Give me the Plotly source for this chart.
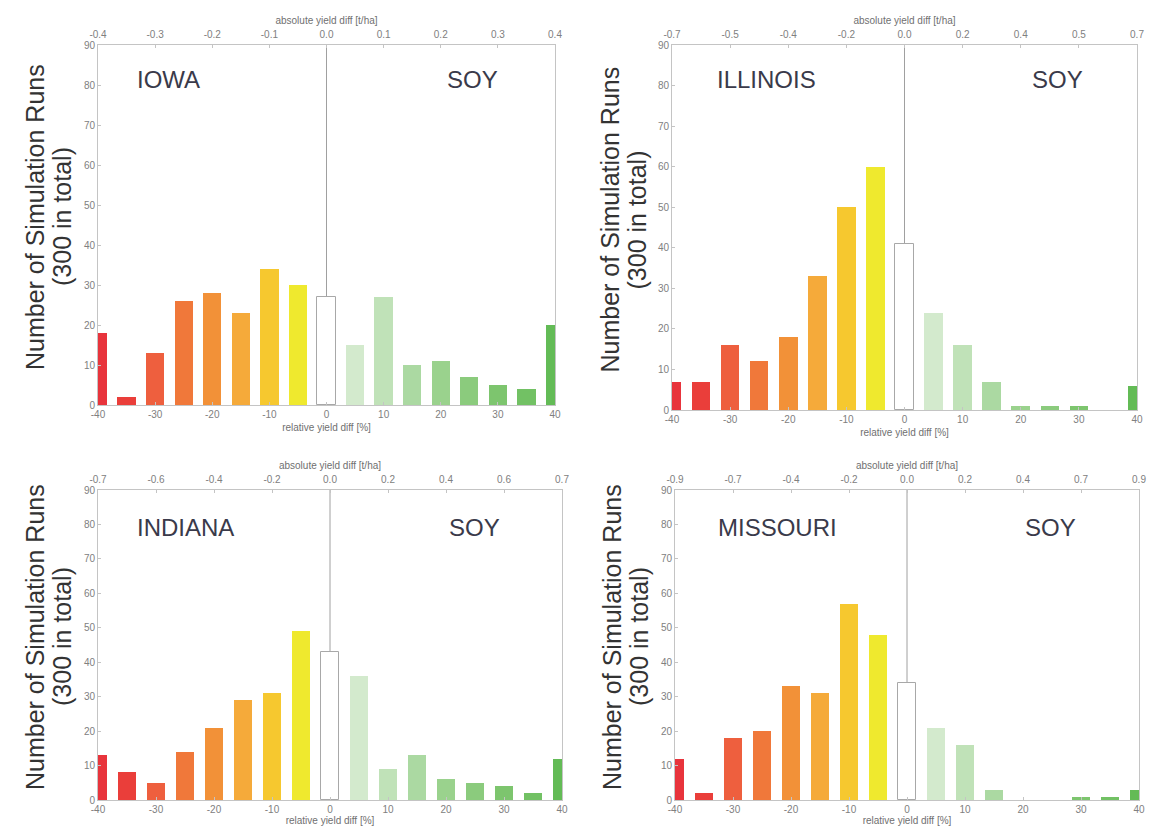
import plotly.graph_objects as go

bins = [-40, -35, -30, -25, -20, -15, -10, -5, 0, 5, 10, 15, 20, 25, 30, 35, 40]

iowa = [18, 2, 13, 26, 28, 23, 34, 30, 27, 15, 27, 10, 11, 7, 5, 4, 20]
illinois = [7, 7, 16, 12, 18, 33, 50, 60, 41, 24, 16, 7, 1, 1, 1, 0, 6]
indiana = [13, 8, 5, 14, 21, 29, 31, 49, 43, 36, 9, 13, 6, 5, 4, 2, 12]
missouri = [12, 2, 18, 20, 33, 31, 57, 48, 34, 21, 16, 3, 0, 0, 1, 1, 3]

states = ["IOWA", "ILLINOIS", "INDIANA", "MISSOURI"]
crop = "SOY"

bottom_tickvals = [-40, -30, -20, -10, 0, 10, 20, 30, 40]
bottom_ticktext = ["-40", "-30", "-20", "-10", "0", "10", "20", "30", "40"]
top_tickvals = [-40, -30, -20, -10, 0, 10, 20, 30, 40]
top_ticktext = {
    "IOWA": ["-0.4", "-0.3", "-0.2", "-0.1", "0.0", "0.1", "0.2", "0.3", "0.4"],
    "ILLINOIS": ["-0.7", "-0.5", "-0.4", "-0.2", "0.0", "0.2", "0.4", "0.5", "0.7"],
    "INDIANA": ["-0.7", "-0.6", "-0.4", "-0.2", "0.0", "0.2", "0.4", "0.6", "0.7"],
    "MISSOURI": ["-0.9", "-0.7", "-0.4", "-0.2", "0.0", "0.2", "0.4", "0.7", "0.9"],
}
y_ticks = [0, 10, 20, 30, 40, 50, 60, 70, 80, 90]

bar_colors = ["#e8343c", "#ea3e3a", "#ee5f3e", "#f0783a", "#f29138", "#f5aa3a",
              "#f6c82f", "#efe92e", "#ffffff",
              "#d3eacd", "#c0e2b8", "#abd9a2", "#9ad28d", "#8bcb7d", "#7dc56e",
              "#72c164", "#63bb56"]
line_colors = ["#a8a8a8" if c == "#ffffff" else c for c in bar_colors]
line_widths = [1 if c == "#ffffff" else 0 for c in bar_colors]

# page body has an 8px margin; figure is sized to fill the rest of the window
OFF = 8
W, H = 1157 - 2 * OFF, 834 - 2 * OFF
# panel frames in window pixels: left, right, top, bottom
frames = {
    "IOWA": (98, 555, 45, 405),
    "ILLINOIS": (672, 1137, 45, 410),
    "INDIANA": (98, 562, 490, 800),
    "MISSOURI": (675, 1139, 490, 800),
}
label_pos = {
    "IOWA": (-33.5, 81.5, 20.7),
    "ILLINOIS": (-32.6, 81.5, 21.6),
    "INDIANA": (-33.6, 79.0, 20.2),
    "MISSOURI": (-33.0, 79.0, 20.0),
}
data = {"IOWA": iowa, "ILLINOIS": illinois, "INDIANA": indiana, "MISSOURI": missouri}

fig = go.Figure()
layout = dict(
    width=W, height=H, margin=dict(l=0, r=0, t=0, b=0, autoexpand=False),
    paper_bgcolor="white", plot_bgcolor="white", showlegend=False,
    font=dict(family="Liberation Sans, Arial, sans-serif"),
    bargap=0,
)
annotations = []
shapes = []
tick_font = dict(size=10, color="#808080")
axis_color = "#c4c4c4"


def px_x(p):
    return (p - OFF) / W


def px_y(p):
    return 1 - (p - OFF) / H


for i, st in enumerate(states):
    l, r, t, b = frames[st]
    xd = [px_x(l), px_x(r)]
    yd = [px_y(b), px_y(t)]
    xb = 2 * i + 1
    xt = 2 * i + 2
    yi = i + 1
    xb_name = "x" if xb == 1 else f"x{xb}"
    xt_name = f"x{xt}"
    y_name = "y" if yi == 1 else f"y{yi}"

    fig.add_trace(go.Bar(
        x=bins, y=data[st], width=3.2,
        marker=dict(color=bar_colors, line=dict(color=line_colors, width=line_widths)),
        xaxis=xb_name, yaxis=y_name, hoverinfo="x+y",
    ))
    fig.add_trace(go.Scatter(x=[0], y=[0], mode="markers", marker=dict(opacity=0),
                             xaxis=xt_name, yaxis=y_name, hoverinfo="skip"))

    layout["xaxis" if xb == 1 else f"xaxis{xb}"] = dict(
        domain=xd, anchor=y_name, range=[-40, 40], side="bottom",
        tickvals=bottom_tickvals, ticktext=bottom_ticktext,
        ticks="inside", ticklen=3, tickcolor=axis_color,
        tickfont=tick_font, showgrid=False, zeroline=False,
        showline=True, linecolor=axis_color, linewidth=1, mirror=False,
        automargin=False,
        title=dict(text="relative yield diff [%]", font=dict(size=10, color="#707070"), standoff=4),
    )
    layout[f"xaxis{xt}"] = dict(
        domain=xd, anchor=y_name, overlaying=xb_name, range=[-40, 40], side="top",
        tickvals=top_tickvals, ticktext=top_ticktext[st],
        ticks="inside", ticklen=3, tickcolor=axis_color, ticklabelstandoff=2,
        tickfont=tick_font, showgrid=False, zeroline=False,
        showline=True, linecolor=axis_color, linewidth=1, automargin=False,
        title=dict(text="absolute yield diff [t/ha]", font=dict(size=10, color="#707070"), standoff=2),
    )
    layout["yaxis" if yi == 1 else f"yaxis{yi}"] = dict(
        domain=yd, anchor=xb_name, range=[0, 90],
        tickvals=y_ticks, ticks="inside", ticklen=3, tickcolor=axis_color,
        tickfont=tick_font, showgrid=False, zeroline=False,
        showline=True, linecolor=axis_color, linewidth=1, mirror=True,
        automargin=False,
    )

    # zero line
    shapes.append(dict(type="line", xref=xb_name, yref=f"{y_name} domain",
                       x0=0, x1=0, y0=0, y1=1, line=dict(color="#a0a0a0", width=1),
                       layer="below"))

    lx, ly, sx = label_pos[st]
    annotations.append(dict(text=st, x=lx, y=ly, xref=xb_name, yref=y_name,
                            xanchor="left", yanchor="middle", showarrow=False,
                            font=dict(size=24, color="#3a3a4a")))
    annotations.append(dict(text=crop, x=sx, y=ly, xref=xb_name, yref=y_name,
                            xanchor="left", yanchor="middle", showarrow=False,
                            font=dict(size=24, color="#3a3a4a")))
    # y-axis title (two lines, set close together)
    cy = px_y((t + b) / 2 - 8)
    for text, dx in (("Number of Simulation Runs", -63), ("(300 in total)", -36)):
        annotations.append(dict(text=text, x=px_x(l + dx), y=cy,
                                xref="paper", yref="paper",
                                xanchor="center", yanchor="middle", textangle=-90,
                                showarrow=False,
                                font=dict(size=25, color="#333333")))

layout["annotations"] = annotations
layout["shapes"] = shapes
fig.update_layout(**layout)
fig.write_html("out.html")
